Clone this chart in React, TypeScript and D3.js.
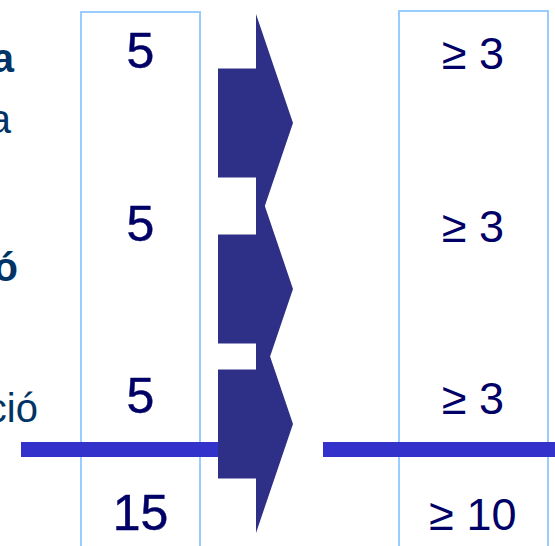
import React from "react";
import * as d3 from "d3";

// ---- data ----
const leftValues: string[] = ["5", "5", "5"];
const leftTotal: string = "15";
const rightValues: string[] = ["≥ 3", "≥ 3", "≥ 3"];
const rightTotal: string = "≥ 10";
const sideLabels: { text: string; bold: boolean }[] = [
  { text: "a", bold: true },
  { text: "a", bold: false },
  { text: "ó", bold: true },
  { text: "ció", bold: false },
];
const arrowSlots: number[] = [0, 1, 2];

// ---- layout ----
const W = 555;
const H = 546;
const C_ARROW = "#2E3087";
const C_LINE = "#3333CC";
const C_BOX = "#99CCFF";
const C_NUM = "#000066";
const C_SIDE = "#003366";

export default function App() {
  const rowY = d3.scaleLinear().domain([0, 2]).range([68, 413]);
  const totalY = 530;
  const arrowY = d3.scaleOrdinal<number, number>().domain(arrowSlots).range([123, 289, 424]);
  const sideY = d3.scaleOrdinal<number, number>().domain([0, 1, 2, 3]).range([72, 133, 281, 422]);
  const sideX = d3.scaleOrdinal<number, number>().domain([0, 1, 2, 3]).range([14, 11, 18, 38]);

  const leftBox = { x0: 81, x1: 200, y0: 12 };
  const rightBox = { x0: 399, x1: 548, y0: 11 };
  const arrow = { x0: 218, xb: 256, xt: 293, rh: 54.5, th: 109 };

  const arrowPath = (cy: number) => {
    const p = d3.path();
    p.moveTo(arrow.x0, cy - arrow.rh);
    p.lineTo(arrow.xb, cy - arrow.rh);
    p.lineTo(arrow.xb, cy - arrow.th);
    p.lineTo(arrow.xt, cy);
    p.lineTo(arrow.xb, cy + arrow.th);
    p.lineTo(arrow.xb, cy + arrow.rh);
    p.lineTo(arrow.x0, cy + arrow.rh);
    p.closePath();
    return p.toString();
  };

  const leftCx = (leftBox.x0 + leftBox.x1) / 2;
  const rightCx = (rightBox.x0 + rightBox.x1) / 2 - 0.5;

  return (
    <div style={{ position: "fixed", left: 0, top: 0 }}>
      <svg width={W} height={H} style={{ display: "block", background: "#fff" }}>
        {/* boxes */}
        <rect x={leftBox.x0} y={leftBox.y0} width={leftBox.x1 - leftBox.x0} height={H + 20 - leftBox.y0}
          fill="none" stroke={C_BOX} strokeWidth={2} />
        <rect x={rightBox.x0} y={rightBox.y0} width={rightBox.x1 - rightBox.x0} height={H + 20 - rightBox.y0}
          fill="none" stroke={C_BOX} strokeWidth={2} />

        {/* side labels (cropped text) */}
        {sideLabels.map((d, i) => (
          <text key={"s" + i} x={sideX(i)} y={sideY(i)} textAnchor="end"
            fontFamily="'Liberation Sans', Arial, sans-serif" fontSize={40}
            fontWeight={d.bold ? "bold" : "normal"} fill={C_SIDE}>{d.text}</text>
        ))}

        {/* left numbers */}
        {leftValues.map((v, i) => (
          <text key={"l" + i} x={leftCx} y={rowY(i)} textAnchor="middle"
            fontFamily="'Comic Sans MS', 'Liberation Sans', sans-serif" fontSize={50}
            fill={C_NUM} stroke={C_NUM} strokeWidth={0.5}>{v}</text>
        ))}
        <text x={leftCx} y={totalY} textAnchor="middle"
          fontFamily="'Comic Sans MS', 'Liberation Sans', sans-serif" fontSize={50}
          fill={C_NUM} stroke={C_NUM} strokeWidth={0.5}>{leftTotal}</text>

        {/* right numbers */}
        {rightValues.map((v, i) => (
          <text key={"r" + i} x={rightCx} y={rowY(i) + 1} textAnchor="middle"
            fontFamily="'Liberation Sans', Arial, sans-serif" fontSize={45}
            fill={C_NUM}>{v}</text>
        ))}
        <text x={rightCx} y={totalY} textAnchor="middle"
          fontFamily="'Liberation Sans', Arial, sans-serif" fontSize={45}
          fill={C_NUM}>{rightTotal}</text>

        {/* separator lines */}
        <rect x={21} y={442} width={arrow.x0 - 21} height={15} fill={C_LINE} />
        <rect x={323} y={442} width={W - 323} height={15} fill={C_LINE} />

        {/* arrows */}
        {arrowSlots.map((s) => (
          <path key={"a" + s} d={arrowPath(arrowY(s))} fill={C_ARROW} />
        ))}
      </svg>
    </div>
  );
}
